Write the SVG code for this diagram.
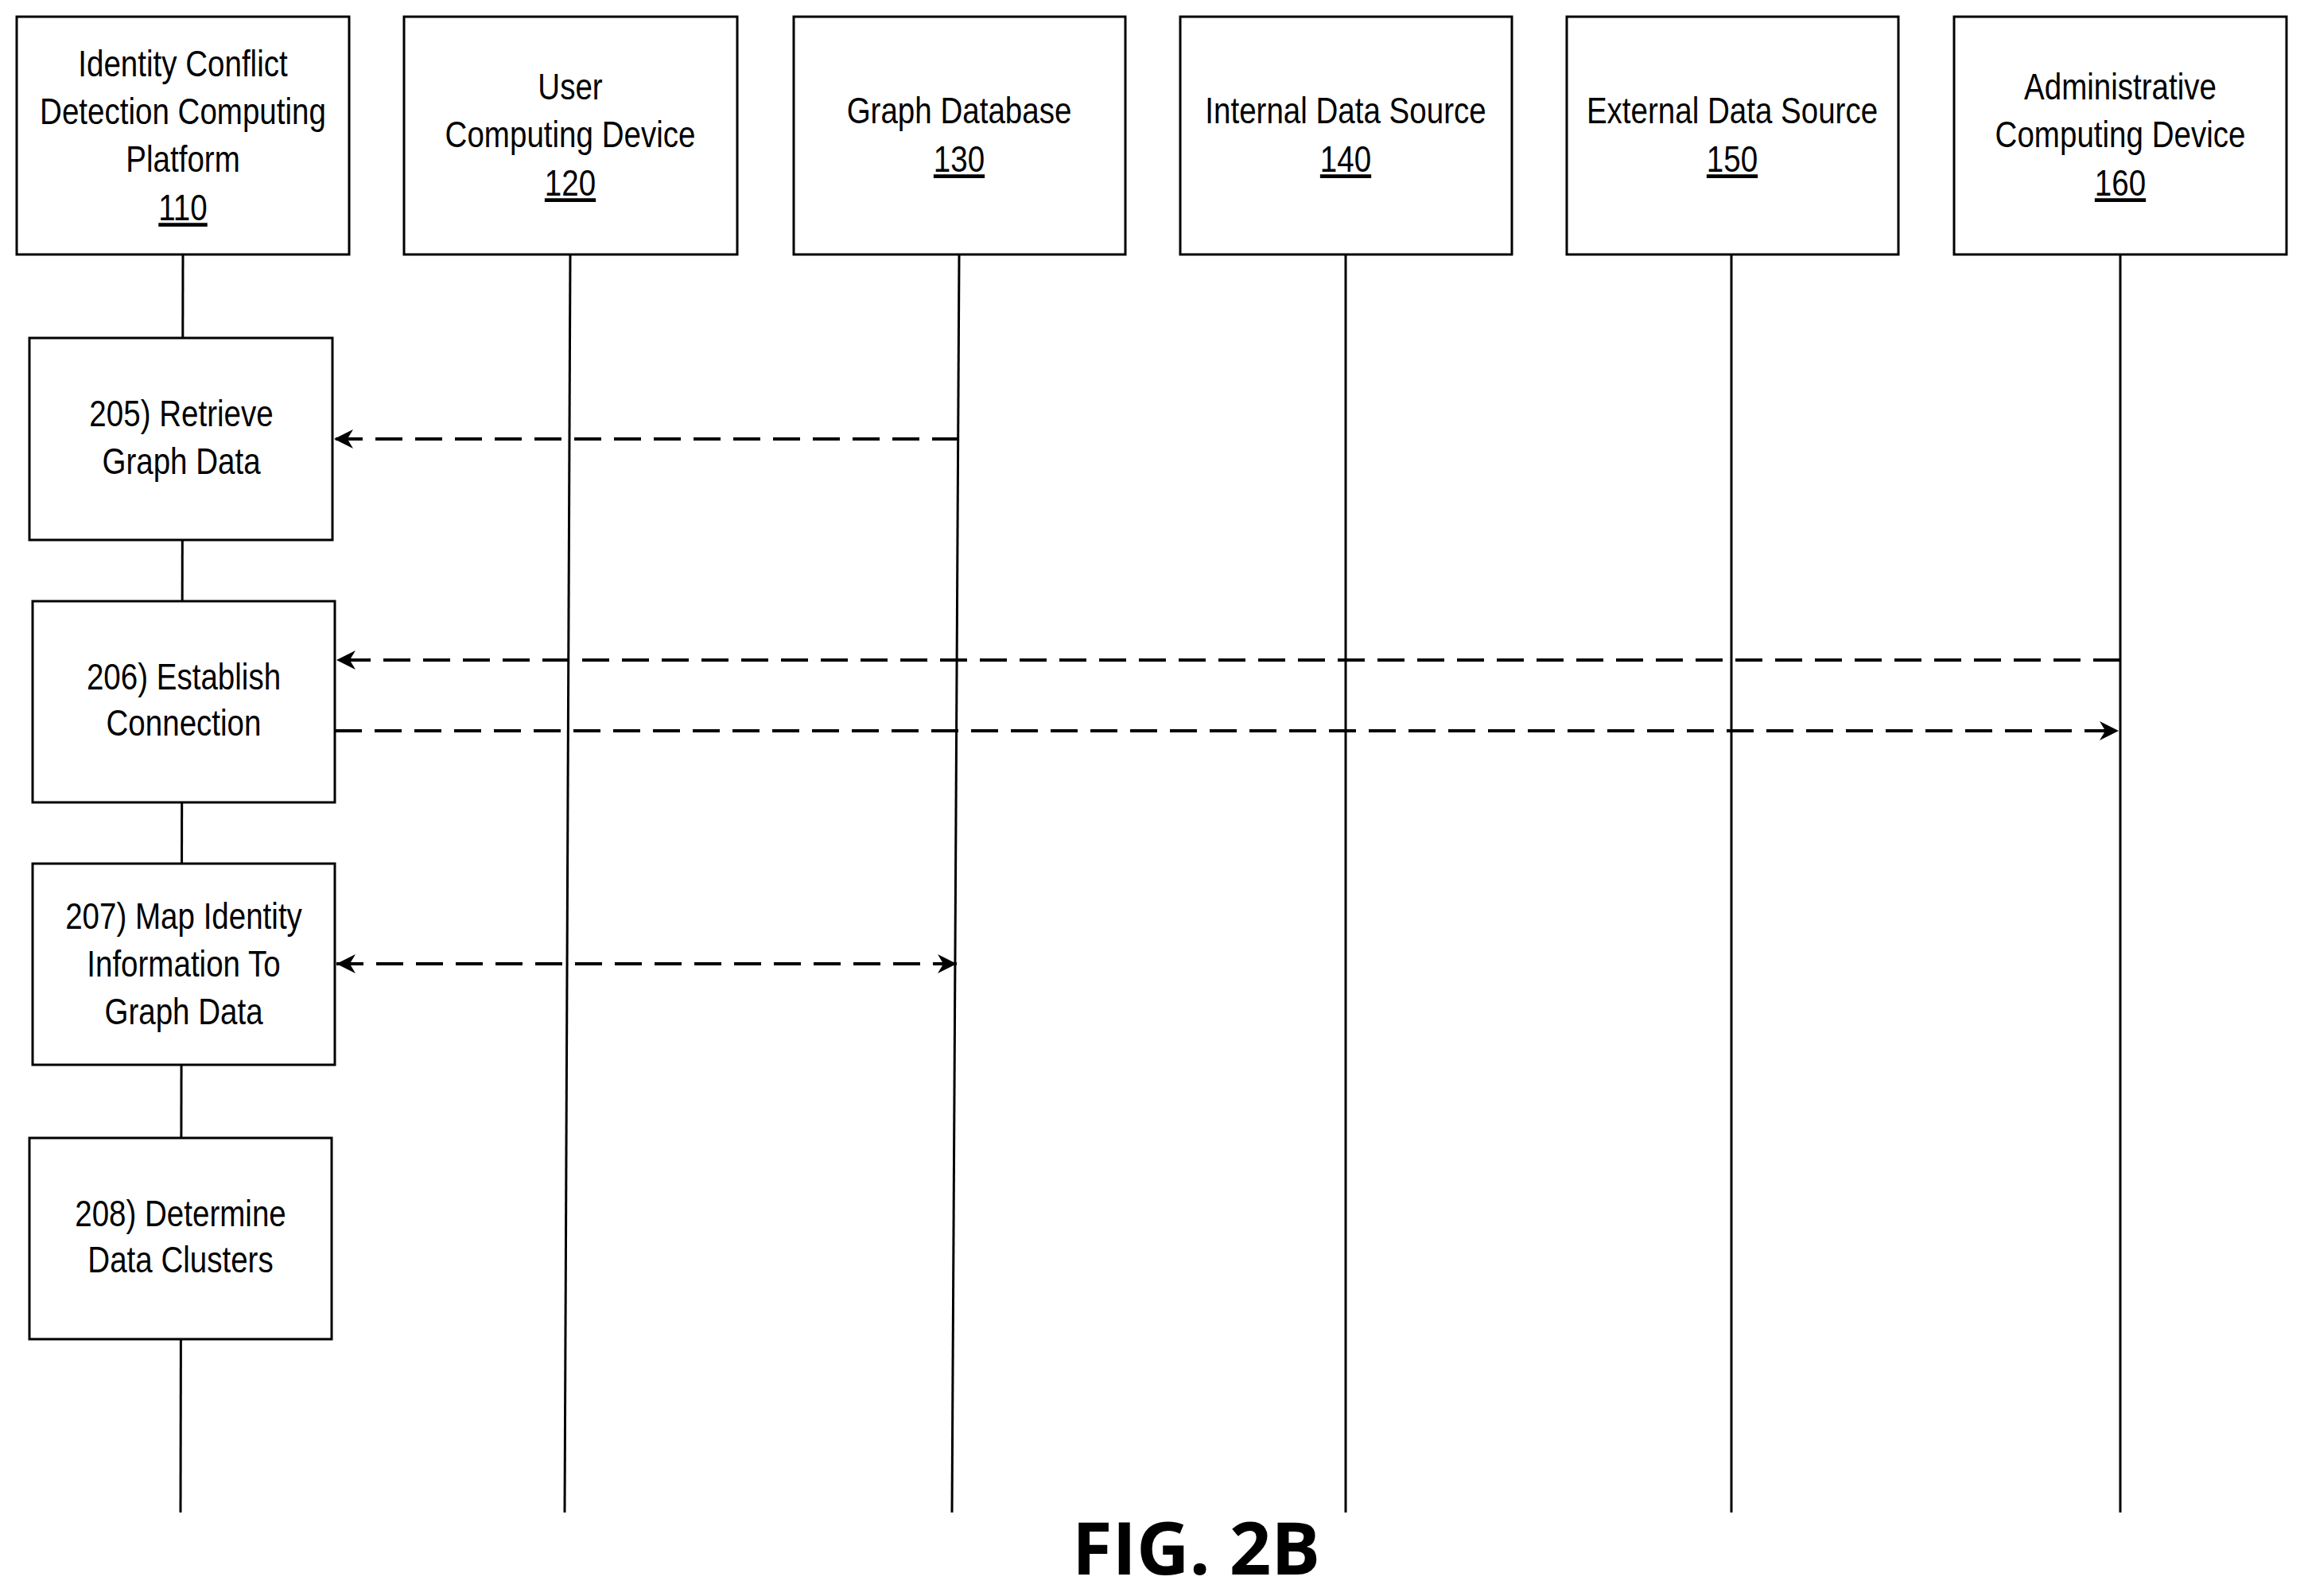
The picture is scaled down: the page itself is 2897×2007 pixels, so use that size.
<svg xmlns="http://www.w3.org/2000/svg" width="2897" height="2007" viewBox="0 0 2897 2007">
<style>
.b{fill:#fff;stroke:#000;stroke-width:3}
.l{stroke:#000;stroke-width:3;fill:none}
.d{stroke:#000;stroke-width:4;fill:none;stroke-dasharray:34 16}
text{font-family:"Liberation Sans",Arial,sans-serif;font-size:47px;text-anchor:middle;fill:#000}
.u{text-decoration:underline}
.fig{font-family:"Open Sans","Noto Sans",sans-serif;font-weight:bold;font-size:92px}
</style>
<defs>
<marker id="a" viewBox="0 0 10 10" refX="10" refY="5" markerWidth="28" markerHeight="24" markerUnits="userSpaceOnUse" orient="auto-start-reverse"><path d="M0,0L10,5L0,10L3,5z" fill="#000"/></marker>
</defs>
<g id="connectors">
<line class="l" x1="230" y1="320" x2="227" y2="1902"/>
<line class="l" x1="717" y1="320" x2="710" y2="1902"/>
<line class="l" x1="1206" y1="320" x2="1197" y2="1902"/>
<line class="l" x1="1692" y1="320" x2="1692" y2="1902"/>
<line class="l" x1="2177" y1="320" x2="2177" y2="1902"/>
<line class="l" x1="2666" y1="320" x2="2666" y2="1902"/>
<line class="d" x1="1206" y1="552" x2="420" y2="552" marker-end="url(#a)"/>
<line class="d" x1="2666" y1="830" x2="423" y2="830" marker-end="url(#a)"/>
<line class="d" x1="421" y1="919" x2="2664" y2="919" marker-end="url(#a)"/>
<line class="d" x1="423" y1="1212" x2="1203" y2="1212" marker-start="url(#a)" marker-end="url(#a)"/>
</g>
<g id="n110"><rect class="b" x="21" y="21" width="418" height="299"/><text transform="translate(230,96) scale(0.82,1)">Identity Conflict</text><text transform="translate(230,156) scale(0.82,1)">Detection Computing</text><text transform="translate(230,216) scale(0.82,1)">Platform</text><text class="u" transform="translate(230,277) scale(0.82,1)">110</text></g>
<g id="n120"><rect class="b" x="508" y="21" width="419" height="299"/><text transform="translate(717,125) scale(0.82,1)">User</text><text transform="translate(717,185) scale(0.82,1)">Computing Device</text><text class="u" transform="translate(717,246) scale(0.82,1)">120</text></g>
<g id="n130"><rect class="b" x="998" y="21" width="417" height="299"/><text transform="translate(1206,155) scale(0.82,1)">Graph Database</text><text class="u" transform="translate(1206,216) scale(0.82,1)">130</text></g>
<g id="n140"><rect class="b" x="1484" y="21" width="417" height="299"/><text transform="translate(1692,155) scale(0.82,1)">Internal Data Source</text><text class="u" transform="translate(1692,216) scale(0.82,1)">140</text></g>
<g id="n150"><rect class="b" x="1970" y="21" width="417" height="299"/><text transform="translate(2178,155) scale(0.82,1)">External Data Source</text><text class="u" transform="translate(2178,216) scale(0.82,1)">150</text></g>
<g id="n160"><rect class="b" x="2457" y="21" width="418" height="299"/><text transform="translate(2666,125) scale(0.82,1)">Administrative</text><text transform="translate(2666,185) scale(0.82,1)">Computing Device</text><text class="u" transform="translate(2666,246) scale(0.82,1)">160</text></g>
<g id="s205"><rect class="b" x="37" y="425" width="381" height="254"/><text transform="translate(228,536) scale(0.82,1)">205) Retrieve</text><text transform="translate(228,596) scale(0.82,1)">Graph Data</text></g>
<g id="s206"><rect class="b" x="41" y="756" width="380" height="253"/><text transform="translate(231,867) scale(0.82,1)">206) Establish</text><text transform="translate(231,925) scale(0.82,1)">Connection</text></g>
<g id="s207"><rect class="b" x="41" y="1086" width="380" height="253"/><text transform="translate(231,1168) scale(0.82,1)">207) Map Identity</text><text transform="translate(231,1228) scale(0.82,1)">Information To</text><text transform="translate(231,1288) scale(0.82,1)">Graph Data</text></g>
<g id="s208"><rect class="b" x="37" y="1431" width="380" height="253"/><text transform="translate(227,1542) scale(0.82,1)">208) Determine</text><text transform="translate(227,1600) scale(0.82,1)">Data Clusters</text></g>
<text class="fig" x="1504" y="1980">FIG. 2B</text>
</svg>
